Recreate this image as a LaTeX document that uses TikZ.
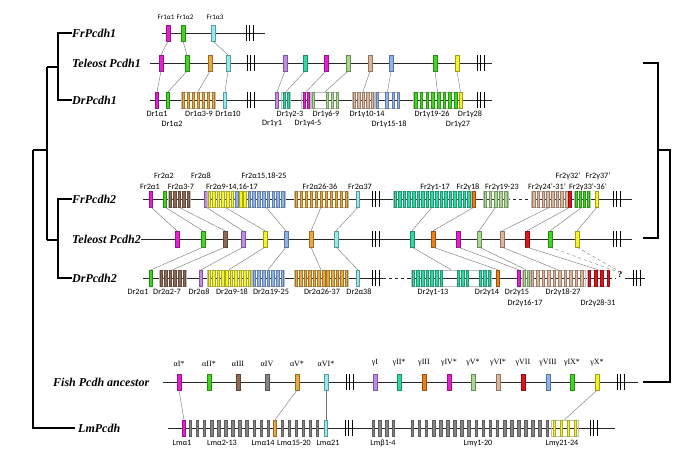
\documentclass[tikz,border=0pt]{standalone}
\usepackage{fontspec}
\setmainfont{Liberation Serif}
\setsansfont{Carlito}
\usetikzlibrary{positioning}

\definecolor{cMag}{HTML}{E81ED2}
\definecolor{cGrn}{HTML}{3ED61E}
\definecolor{cOra}{HTML}{EBA83C}
\definecolor{cCya}{HTML}{93ECEC}
\definecolor{cPur}{HTML}{C28BEA}
\definecolor{cTea}{HTML}{2ED9A2}
\definecolor{cLgr}{HTML}{A8D78E}
\definecolor{cTan}{HTML}{DDB59A}
\definecolor{cBlu}{HTML}{8DB3EC}
\definecolor{cYel}{HTML}{F6F424}
\definecolor{cBro}{HTML}{8E6A55}
\definecolor{cDor}{HTML}{F07D12}
\definecolor{cRed}{HTML}{E2121A}
\definecolor{cGry}{HTML}{858585}

\newcommand{\bars}[5]{%
  \foreach \bi in {1,...,#3}
    \filldraw[fill=#5, draw=#5!70!black, line width=0.2pt]
      ({#1+(\bi-1)*#2-1.3},{#4-8}) rectangle ({#1+(\bi-1)*#2+1.3},{#4+8});
}
\newcommand{\breaks}[2]{%
  \foreach \bj in {0,3.5,7}
    \draw[line width=0.9pt] ({#1+\bj},{#2-8}) -- ({#1+\bj},{#2+8});
}

\begin{document}
\begin{tikzpicture}[x=1pt, y=-1pt,
    rowname/.style={font=\bfseries\itshape\fontsize{12}{12}\selectfont, anchor=west, inner sep=0},
    lab/.style={font=\sffamily\fontsize{8.2}{8.2}\selectfont, inner sep=0},
    small/.style={font=\sffamily\fontsize{7}{7}\selectfont},
    anl/.style={font=\fontsize{8}{8}\selectfont, inner sep=0},
    gene/.style={rectangle, draw=#1!65!black, fill=#1, line width=0.3pt, minimum width=4.5, minimum height=16, inner sep=0},
    narrow/.style={minimum width=3},
    clus/.style={rectangle, draw=black!25, line width=0.6pt, minimum height=16, inner sep=0},
    chrom/.style={black!85, line width=0.6pt},
    link/.style={black!55, line width=0.4pt},
    branch/.style={line width=1.4pt}
]
\useasboundingbox (0,0) rectangle (685,453);

% Pcdh1
\node[rowname] (frp1) at (72,33) {FrPcdh1};
\node[rowname] (tep1) at (72,63) {Teleost Pcdh1};
\node[rowname] (drp1) at (72,100) {DrPcdh1};

\draw[chrom] (162,33) -- (265,33);
\draw[chrom] (150,63) -- (492,63);
\draw[chrom] (150,100) -- (492,100);

\node[gene=cMag] (f1a1) at (168,33) {};
\node[gene=cGrn] (f1a2) at (183,33) {};
\node[gene=cCya] (f1a3) at (213,33) {};
\breaks{246}{33}
\node[lab, small] (lf1a1) at (166,17) {Fr1α1};
\node[lab, small] (lf1a2) at (185,17) {Fr1α2};
\node[lab, small] (lf1a3) at (215,17) {Fr1α3};

\node[gene=cMag] (t1a1) at (161,63) {};
\node[gene=cGrn] (t1a2) at (187,63) {};
\node[gene=cOra] (t1a3) at (210,63) {};
\node[gene=cCya] (t1a4) at (228,63) {};
\breaks{247}{63}
\node[gene=cPur] (t1g1) at (285,63) {};
\node[gene=cTea] (t1g2) at (305,63) {};
\node[gene=cMag] (t1g3) at (326,63) {};
\node[gene=cLgr] (t1g4) at (348,63) {};
\node[gene=cTan] (t1g5) at (370,63) {};
\node[gene=cBlu] (t1g6) at (391,63) {};
\node[gene=cGrn] (t1g7) at (435,63) {};
\node[gene=cYel] (t1g8) at (457,63) {};
\breaks{477}{63}

\node[gene=cMag, narrow] (d1a1) at (157,100) {};
\node[gene=cGrn, narrow] (d1a2) at (168,100) {};
\node[clus, minimum width=34] (d1a3) at (198,100) {};
\bars{183}{5}{7}{100}{cOra}
\node[gene=cCya, narrow] (d1a10) at (225,100) {};
\breaks{247}{100}
\node[gene=cPur, narrow] (d1g1) at (277,100) {};
\node[clus, minimum width=9] (d1g2) at (286,100) {};
\bars{284}{4}{2}{100}{cTea}
\node[clus, minimum width=9] (d1g4) at (306,100) {};
\bars{304}{4}{2}{100}{cMag}
\node[clus, minimum width=27] (d1g6) at (325,100) {};
\bars{313}{1}{1}{100}{cLgr}
\bars{327}{5}{3}{100}{cLgr}
\node[clus, minimum width=22] (d1g10) at (363,100) {};
\bars{354}{4.5}{5}{100}{cTan}
\node[clus, minimum width=24] (d1g15) at (387.5,100) {};
\bars{377}{9.5}{2}{100}{cBlu}
\bars{393}{5}{2}{100}{cBlu}
\node[clus, minimum width=48] (d1g19) at (437.5,100) {};
\bars{415.5}{5.7}{8}{100}{cGrn}
\node[gene=cYel, narrow] (d1g27) at (460.5,100) {};
\breaks{477}{100}

\node[lab] (ld1a1) at (157,114) {Dr1α1};
\node[lab] (ld1a2) at (172,124) {Dr1α2};
\node[lab] (ld1a3) at (199,114) {Dr1α3-9};
\node[lab] (ld1a10) at (228,114) {Dr1α10};
\node[lab] (ld1g1) at (272,124) {Dr1γ1};
\node[lab] (ld1g2) at (290,114) {Dr1γ2-3};
\node[lab] (ld1g4) at (308,124) {Dr1γ4-5};
\node[lab] (ld1g6) at (326,114) {Dr1γ6-9};
\node[lab] (ld1g10) at (367,114) {Dr1γ10-14};
\node[lab] (ld1g15) at (389,124) {Dr1γ15-18};
\node[lab] (ld1g19) at (432,114) {Dr1γ19-26};
\node[lab] (ld1g28) at (470,114) {Dr1γ28};
\node[lab] (ld1g27) at (458,124) {Dr1γ27};

\draw[link] (f1a1.south) -- (t1a1.north);
\draw[link] (f1a2.south) -- (t1a2.north);
\draw[link] (f1a3.south) -- (t1a4.north);
\draw[link] (t1a1.south) -- (d1a1.north);
\draw[link] (t1a2.south) -- (d1a2.north);
\draw[link] (t1a3.south) -- (d1a3.north);
\draw[link] (t1a4.south) -- (d1a10.north);
\draw[link] (t1g1.south) -- (d1g1.north);
\draw[link] (t1g2.south) -- (d1g2.north);
\draw[link] (t1g3.south) -- (d1g4.north);
\draw[link] (t1g4.south) -- (d1g6.north);
\draw[link] (t1g5.south) -- (d1g10.north);
\draw[link] (t1g6.south) -- (d1g15.north);
\draw[link] (t1g7.south) -- (d1g19.north);
\draw[link] (t1g8.south) -- (d1g27.north);

% Pcdh2
\node[rowname] (frp2) at (72,199) {FrPcdh2};
\node[rowname] (tep2) at (72,239) {Teleost Pcdh2};
\node[rowname] (drp2) at (72,278) {DrPcdh2};

\draw[chrom] (143,199) -- (507,199);
\draw[chrom, dashed] (507,199) -- (532,199);
\draw[chrom] (532,199) -- (632,199);
\draw[chrom] (tep2.east) -- (632,239);
\draw[chrom] (143,278) -- (383,278);
\draw[chrom, dashed] (383,278) -- (410,278);
\draw[chrom] (410,278) -- (609,278);
\draw[chrom, dashed] (609,278) -- (616,278);
\draw[chrom] (625,278) -- (645,278);

\node[gene=cMag, narrow] (f2a1) at (151,199) {};
\node[gene=cGrn, narrow] (f2a2) at (165,199) {};
\node[clus, minimum width=22] (f2a3) at (179,199) {};
\bars{170}{4.5}{5}{199}{cBro}
\node[gene=cPur, narrow] (f2a8) at (206,199) {};
\node[clus, minimum width=78] (f2a9) at (246,199) {};
\bars{209}{4.6}{6}{199}{cYel}
\bars{236.5}{1}{1}{199}{cBlu}
\bars{240.5}{4}{2}{199}{cYel}
\bars{249}{4.8}{8}{199}{cBlu}
\node[clus, minimum width=54] (f2a26) at (321,199) {};
\bars{296}{5}{11}{199}{cOra}
\node[gene=cCya, narrow] (f2a37) at (358,199) {};
\breaks{372}{199}
\node[clus, minimum width=78] (f2g1) at (432,199) {};
\bars{395}{4.6}{17}{199}{cTea}
\node[gene=cDor, narrow] (f2g18) at (474,199) {};
\node[clus, minimum width=25] (f2g19) at (495.5,199) {};
\bars{485}{5.2}{5}{199}{cLgr}
\node[clus, minimum width=37] (f2g24) at (549.5,199) {};
\bars{533.5}{4.7}{8}{199}{cTan}
\node[gene=cRed, narrow] (f2g32) at (570,199) {};
\node[clus, minimum width=16] (f2g33) at (582,199) {};
\bars{576}{4}{4}{199}{cGrn}
\node[gene=cYel, narrow] (f2g37) at (597,199) {};
\breaks{613}{199}

\node[lab] (lf2a1) at (150,187) {Fr2α1};
\node[lab] (lf2a2) at (164,176) {Fr2α2};
\node[lab] (lf2a3) at (181,187) {Fr2α3-7};
\node[lab] (lf2a8) at (201,176) {Fr2α8};
\node[lab] (lf2a9) at (232,187) {Fr2α9-14,16-17};
\node[lab] (lf2a15) at (264,176) {Fr2α15,18-25};
\node[lab] (lf2a26) at (320,187) {Fr2α26-36};
\node[lab] (lf2a37) at (360,187) {Fr2α37};
\node[lab] (lf2g1) at (435,187) {Fr2γ1-17};
\node[lab] (lf2g18) at (468,187) {Fr2γ18};
\node[lab] (lf2g19) at (502,187) {Fr2γ19-23};
\node[lab] (lf2g24) at (547,187) {Fr2γ24'-31'};
\node[lab] (lf2g32) at (568,176) {Fr2γ32'};
\node[lab] (lf2g33) at (588,187) {Fr2γ33'-36'};
\node[lab] (lf2g37) at (598,176) {Fr2γ37'};

\node[gene=cMag] (t2a1) at (177,239) {};
\node[gene=cGrn] (t2a2) at (203,239) {};
\node[gene=cBro] (t2a3) at (225,239) {};
\node[gene=cPur] (t2a4) at (243,239) {};
\node[gene=cYel] (t2a5) at (265,239) {};
\node[gene=cBlu] (t2a6) at (286,239) {};
\node[gene=cOra] (t2a7) at (311,239) {};
\node[gene=cCya] (t2a8) at (336,239) {};
\breaks{372}{239}
\node[gene=cTea] (t2g1) at (412,239) {};
\node[gene=cDor] (t2g2) at (433,239) {};
\node[gene=cMag] (t2g3) at (458,239) {};
\node[gene=cLgr] (t2g4) at (479,239) {};
\node[gene=cTan] (t2g5) at (502,239) {};
\node[gene=cRed] (t2g6) at (527,239) {};
\node[gene=cGrn] (t2g7) at (550,239) {};
\node[gene=cYel] (t2g8) at (577,239) {};
\breaks{613}{239}

\node[gene=cGrn, narrow] (d2a1) at (151,278) {};
\node[clus, minimum width=27] (d2a2) at (172.5,278) {};
\bars{161}{4.6}{6}{278}{cBro}
\node[gene=cPur, narrow] (d2a8) at (201,278) {};
\node[clus, minimum width=44] (d2a9) at (229,278) {};
\bars{209}{4.45}{10}{278}{cYel}
\node[clus, minimum width=32] (d2a19) at (268,278) {};
\bars{254}{4.7}{7}{278}{cBlu}
\node[clus, minimum width=54] (d2a26) at (321,278) {};
\bars{296}{4.55}{12}{278}{cOra}
\node[gene=cCya, narrow] (d2a38) at (358,278) {};
\breaks{372}{278}
\node[clus, minimum width=80] (d2g1) at (451,278) {};
\bars{413}{4.7}{7}{278}{cTea}
\bars{458}{4.5}{3}{278}{cTea}
\bars{480}{4.5}{3}{278}{cTea}
\node[gene=cDor, narrow] (d2g14) at (498,278) {};
\node[gene=cMag, narrow] (d2g15) at (519,278) {};
\node[clus, minimum width=8] (d2g16) at (526,278) {};
\bars{524}{4}{2}{278}{cLgr}
\node[clus, minimum width=55] (d2g18) at (557.5,278) {};
\bars{532}{5.5}{10}{278}{cTan}
\node[clus, minimum width=22] (d2g28) at (598,278) {};
\bars{589}{6.3}{4}{278}{cRed}
\node[font=\bfseries\fontsize{9}{9}\selectfont, inner sep=0] (qm) at (620,275) {?};
\breaks{633}{278}

\node[lab] (ld2a1) at (138,292) {Dr2α1};
\node[lab] (ld2a2) at (167,292) {Dr2α2-7};
\node[lab] (ld2a8) at (199,292) {Dr2α8};
\node[lab] (ld2a9) at (232,292) {Dr2α9-18};
\node[lab] (ld2a19) at (271,292) {Dr2α19-25};
\node[lab] (ld2a26) at (322,292) {Dr2α26-37};
\node[lab] (ld2a38) at (359,292) {Dr2α38};
\node[lab] (ld2g1) at (433,292) {Dr2γ1-13};
\node[lab] (ld2g14) at (487,292) {Dr2γ14};
\node[lab] (ld2g15) at (517,292) {Dr2γ15};
\node[lab] (ld2g16) at (525,303) {Dr2γ16-17};
\node[lab] (ld2g18) at (563,292) {Dr2γ18-27};
\node[lab] (ld2g28) at (598,303) {Dr2γ28-31};

\draw[link] (f2a1.south) -- (t2a1.north);
\draw[link] (f2a2.south) -- (t2a2.north);
\draw[link] (f2a3.south) -- (t2a3.north);
\draw[link] (f2a8.south) -- (t2a4.north);
\draw[link] ([xshift=-21]f2a9.south) -- (t2a5.north);
\draw[link] ([xshift=20]f2a9.south) -- (t2a6.north);
\draw[link] (f2a26.south) -- (t2a7.north);
\draw[link] (f2a37.south) -- (t2a8.north);
\draw[link] (f2g1.south) -- (t2g1.north);
\draw[link] (f2g18.south) -- (t2g2.north);
\draw[link] (f2g19.south) -- (t2g4.north);
\draw[link] (f2g24.south) -- (t2g5.north);
\draw[link] (f2g32.south) -- (t2g6.north);
\draw[link] (f2g33.south) -- (t2g7.north);
\draw[link] (f2g37.south) -- (t2g8.north);

\draw[link] (t2a2.south) -- (d2a1.north);
\draw[link] (t2a3.south) -- (d2a2.north);
\draw[link] (t2a4.south) -- (d2a8.north);
\draw[link] (t2a5.south) -- (d2a9.north);
\draw[link] (t2a6.south) -- (d2a19.north);
\draw[link] (t2a7.south) -- (d2a26.north);
\draw[link] (t2a8.south) -- (d2a38.north);
\draw[link] (t2g1.south) -- (d2g1.north);
\draw[link] (t2g2.south) -- (d2g14.north);
\draw[link] (t2g3.south) -- (d2g15.north);
\draw[link] (t2g4.south) -- (d2g16.north);
\draw[link] (t2g5.south) -- (d2g18.north);
\draw[link] (t2g6.south) -- (d2g28.north);
\draw[link, dashed] (t2g7.south) -- (qm.north west);
\draw[link, dashed] (t2g8.south) -- (qm.north);

% ancestor and lamprey
\node[rowname] (anc) at (53,382) {Fish Pcdh ancestor};
\node[rowname] (lmp) at (78,428) {LmPcdh};

\draw[chrom] (163,382) -- (638,382);
\draw[chrom] (168,428) -- (615,428);

\node[gene=cMag] (aa1) at (179,382) {};
\node[gene=cGrn] (aa2) at (209,382) {};
\node[gene=cBro] (aa3) at (238,382) {};
\node[gene=cGry] (aa4) at (267,382) {};
\node[gene=cOra] (aa5) at (297,382) {};
\node[gene=cCya] (aa6) at (326,382) {};
\breaks{346}{382}
\node[gene=cPur] (ag1) at (375,382) {};
\node[gene=cTea] (ag2) at (399,382) {};
\node[gene=cDor] (ag3) at (424,382) {};
\node[gene=cMag] (ag4) at (449,382) {};
\node[gene=cLgr] (ag5) at (473,382) {};
\node[gene=cTan] (ag6) at (498,382) {};
\node[gene=cRed] (ag7) at (523,382) {};
\node[gene=cBlu] (ag8) at (548,382) {};
\node[gene=cGrn] (ag9) at (572,382) {};
\node[gene=cYel] (ag10) at (597,382) {};
\breaks{617}{382}

\node[anl, above=7pt of aa1] (laa1) {αI*};
\node[anl, above=7pt of aa2] (laa2) {αII*};
\node[anl, above=7pt of aa3] (laa3) {αIII};
\node[anl, above=7pt of aa4] (laa4) {αIV};
\node[anl, above=7pt of aa5] (laa5) {αV*};
\node[anl, above=7pt of aa6] (laa6) {αVI*};
\node[anl, above=7pt of ag1] (lag1) {γI};
\node[anl, above=7pt of ag2] (lag2) {γII*};
\node[anl, above=7pt of ag3] (lag3) {γIII};
\node[anl, above=7pt of ag4] (lag4) {γIV*};
\node[anl, above=7pt of ag5] (lag5) {γV*};
\node[anl, above=7pt of ag6] (lag6) {γVI*};
\node[anl, above=7pt of ag7] (lag7) {γVII};
\node[anl, above=7pt of ag8] (lag8) {γVIII};
\node[anl, above=7pt of ag9] (lag9) {γIX*};
\node[anl, above=7pt of ag10] (lag10) {γX*};

\node[gene=cMag, narrow] (lma1) at (184,428) {};
\bars{190}{7.1}{12}{428}{cGry}
\node[gene=cOra, narrow] (lma14) at (275,428) {};
\bars{282}{7}{6}{428}{cGry}
\node[gene=cCya, narrow] (lma21) at (326,428) {};
\breaks{345}{428}
\bars{373}{6.7}{4}{428}{cGry}
\bars{412}{7.1}{20}{428}{cGry}
\node[clus, minimum width=27] (lmg21) at (564.5,428) {};
\bars{554}{7}{4}{428}{cYel}
\breaks{590}{428}

\node[lab] (llma1) at (182,443) {Lmα1};
\node[lab] (llma2) at (222,443) {Lmα2-13};
\node[lab] (llma14) at (263,443) {Lmα14};
\node[lab] (llma15) at (294,443) {Lmα15-20};
\node[lab] (llma21) at (328,443) {Lmα21};
\node[lab] (llmb1) at (383,443) {Lmβ1-4};
\node[lab] (llmg1) at (478,443) {Lmγ1-20};
\node[lab] (llmg21) at (562,443) {Lmγ21-24};

\draw[link] (aa1.south) -- (lma1.north);
\draw[link] (aa5.south) -- (lma14.north);
\draw[link] (aa6.south) -- (lma21.north);
\draw[link] (ag10.south) -- (lmg21.north);

% tree
\coordinate (c0) at (33,150);
\coordinate (c1) at (47,67);
\coordinate (c2) at (47,240);
\coordinate (c3) at (658,150);
\coordinate (r1) at (643,63);
\coordinate (r2) at (643,238);
\coordinate (r3) at (643,382);

\draw[branch] (frp1.west) -- ++(-14,0) |- (drp1.west);
\draw[branch] (frp2.west) -- ++(-14,0) |- (drp2.west);
\draw[branch] (c1) -- ++(11,0);
\draw[branch] (c2) -- ++(11,0);
\draw[branch] (c1) -- (c2);
\draw[branch] (c0) -- (c1 |- c0);
\draw[branch] (c0) |- ([xshift=-3]lmp.west);
\draw[branch] (r1) -| (c3) |- (r2);
\draw[branch] (c3) -- ++(12,0) |- (r3);

\end{tikzpicture}
\end{document}
